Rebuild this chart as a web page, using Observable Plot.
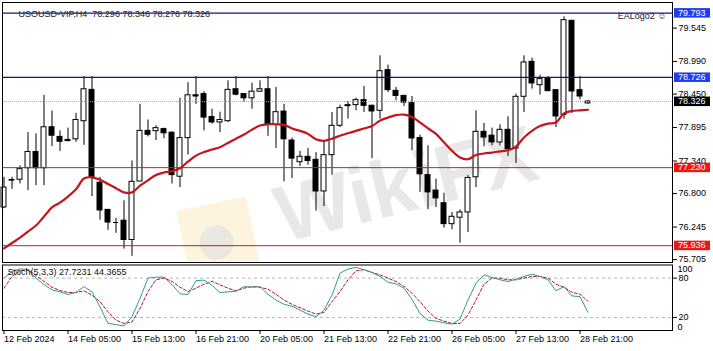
<!DOCTYPE html>
<html>
<head>
<meta charset="utf-8">
<script src="https://cdn.jsdelivr.net/npm/d3@7"></script>
<script src="https://cdn.jsdelivr.net/npm/@observablehq/plot@0.6"></script>
<style>
html, body { margin: 0; padding: 0; background: #fff; }
#chart { position: relative; width: 713px; height: 351px; overflow: hidden; background: #fff; }
#chart svg { position: absolute; left: 0; }
</style>
</head>
<body>
<div id="chart"></div>
<script>
// ---- data ----
const opens  = [76.57,77.02,77.03,77.22,77.49,77.22,77.90,77.74,77.69,77.70,78.00,78.52,76.98,76.53,76.32,76.35,76.03,77.00,77.84,77.835,77.869,77.81,77.08,77.72,78.43,78.45,78.07,77.98,78.00,78.53,78.45,78.38,78.49,78.53,77.94,78.16,77.68,77.32,77.41,77.36,76.835,77.437,77.924,78.25,78.267,78.35,78.256,78.173,78.847,78.504,78.42,78.30,77.72,77.106,76.85,76.64,76.293,76.40,76.487,77.07,77.824,77.76,77.648,77.857,77.548,78.405,78.985,78.598,78.71,78.515,78.106,79.665,78.515,78.296];
const highs  = [77.07,77.07,77.26,77.81,77.79,78.43,78.17,77.84,77.885,78.13,78.74,78.74,77.07,76.53,76.39,76.68,77.34,78.28,78.02,77.925,77.885,77.82,78.38,78.64,78.74,78.49,78.20,78.15,78.67,78.74,78.45,78.63,78.67,78.74,78.56,78.28,77.72,77.50,77.55,77.48,77.675,78.145,78.267,78.327,78.383,78.576,78.267,79.085,78.93,78.56,78.43,78.41,77.77,77.592,77.04,76.807,76.487,76.53,77.10,78.173,77.963,77.885,77.94,78.073,78.449,79.085,79.046,78.764,78.742,78.515,79.731,79.676,78.742,78.346];
const lows   = [76.55,76.87,76.96,76.85,76.93,76.93,77.58,77.50,77.66,77.65,77.60,76.75,76.36,76.19,76.14,75.88,75.76,77.00,77.74,77.68,77.71,76.96,76.90,77.44,78.28,77.84,77.95,77.81,77.98,78.42,78.32,78.20,78.48,77.75,77.55,76.995,77.05,77.25,77.27,76.51,76.586,77.106,77.896,78.035,78.173,78.145,77.38,78.035,78.477,78.34,78.245,77.51,76.82,76.531,76.57,76.227,76.20,75.978,76.155,76.90,77.576,77.592,77.592,77.415,77.30,78.145,78.532,78.433,78.488,77.896,78.035,78.128,78.355,78.276];
const closes = [76.90,77.025,77.205,77.49,77.22,77.90,77.76,77.66,77.67,78.02,78.53,77.07,76.52,76.32,76.32,76.03,76.995,77.84,77.775,77.885,77.80,77.106,77.72,78.43,78.41,78.06,77.98,78.02,78.52,78.44,78.38,78.49,78.53,77.94,78.15,77.70,77.38,77.41,77.34,76.835,77.437,77.924,78.217,78.267,78.35,78.256,78.162,78.83,78.515,78.42,78.31,77.714,77.12,76.82,76.72,76.293,76.415,76.487,77.06,77.824,77.73,77.648,77.857,77.537,78.405,78.974,78.626,78.698,78.499,78.079,79.676,78.493,78.41,78.326];
const maValues = [75.89,75.98,76.07,76.17,76.27,76.42,76.57,76.65,76.75,76.87,77.05,77.07,77.03,76.96,76.89,76.82,76.82,76.93,77.02,77.11,77.15,77.17,77.22,77.33,77.43,77.49,77.53,77.57,77.64,77.71,77.78,77.86,77.93,77.95,77.95,77.94,77.88,77.84,77.79,77.70,77.675,77.71,77.76,77.80,77.84,77.88,77.92,78.01,78.06,78.10,78.11,78.07,77.98,77.88,77.79,77.65,77.51,77.40,77.37,77.44,77.465,77.48,77.50,77.52,77.58,77.73,77.84,77.92,77.96,77.98,78.13,78.17,78.18,78.19];
const stochK = [80,90,94,93,80,70,62,59,55,58,67,59,36,11,9,7,21,49,80,81.5,81.5,70,56,55,76,77,69,58,59,60,67,66,67,55,46.5,40,37,31,25,21,31,54,87.6,93.8,96.3,92.8,88.6,82.5,73.8,71.2,64.6,47.6,26,15.8,14.3,11.7,9.7,17.4,46.5,72.3,85,81,77.4,74.8,78.4,82.5,86,82.5,77.4,60.5,67.2,52.8,51.7,27.7231];
const stochD = [64.6,82.5,91,93,84,75,66,61,58,58,60.5,54,44,28.5,15.8,10.8,13,33.7,59.4,77.4,80,75,66,59.4,64.6,70.7,75,69.7,64.6,60.5,64.6,67.2,66,63,55.3,46.5,39.9,34.7,29.6,25,27.5,44,59.4,77.4,91,92.8,88.6,85,80,74.8,67.2,56.9,44,29.6,18.5,14.3,10.8,10.8,23.6,46.5,70.7,80,80,77.4,77.4,80,82.5,82.5,80,70.7,66,58.4,55.3,44.3655];

const dateTicks  = [0, 8, 16, 24, 32, 40, 48, 56, 64, 72];
const dateLabels = ["12 Feb 2024","14 Feb 05:00","15 Feb 13:00","16 Feb 21:00","20 Feb 05:00","21 Feb 13:00","22 Feb 21:00","26 Feb 05:00","27 Feb 13:00","28 Feb 21:00"];
const priceTicks = [79.545, 78.990, 78.450, 77.895, 77.340, 76.800, 76.245, 75.705];
const blueLevels = [79.793, 78.726];
const redLevels  = [77.230, 75.936];
const bidLevel   = [78.326];
const stochLevels = [80, 20];
const titleText = "USOUSD-VIP,H4\u00a0\u00a078.296 78.346 78.276 78.326";
const eaText = "EALogo2 \u263A";
const stochText = "Stoch(5,3,3) 27.7231 44.3655";
const watermark = "WikiFX";

// ---- tables built from the arrays ----
const bars = opens.map((o, i) => ({i, open: o, high: highs[i], low: lows[i], close: closes[i], ma: maValues[i]}));
const stoch = stochK.map((k, i) => ({i, k, d: stochD[i]}));
const boxes = [
  ...blueLevels.map(v => ({v, color: "#1f3cf0"})),
  ...bidLevel.map(v => ({v, color: "#000000"})),
  ...redLevels.map(v => ({v, color: "#ee1515"}))
];

const xDomain = [-0.1875, 83.5625];
const font = '"Liberation Sans", Arial, sans-serif';
const baseStyle = {fontFamily: font, fontSize: "9px", background: "transparent", color: "#000"};

function priceBoxes(list) {
  return (index, scales, values, dimensions) => {
    const g = d3.create("svg:g");
    const x0 = dimensions.width - dimensions.marginRight;
    for (const b of list) {
      const y = scales.y(b.v);
      g.append("rect").attr("x", x0 + 2).attr("y", y - 4.5).attr("width", 36).attr("height", 9.5).attr("fill", b.color);
      g.append("text").attr("x", x0 + 6).attr("y", y).attr("dy", "0.34em")
        .attr("text-anchor", "start")
        .attr("fill", "#fff").attr("font-size", 9).attr("font-family", font).text(b.v.toFixed(3));
    }
    return g.node();
  };
}

const main = Plot.plot({
  width: 713, height: 263,
  marginLeft: 2, marginRight: 41, marginTop: 2, marginBottom: 1,
  x: {domain: xDomain, axis: null},
  y: {domain: [75.657, 79.969], axis: null},
  style: baseStyle,
  marks: [
    Plot.dot([watermark], {frameAnchor: "bottom-left", dx: 216, dy: -24, r: 40, symbol: "square", rotate: -12, fill: "#fcf4dc"}),
    Plot.dot([watermark], {frameAnchor: "bottom-left", dx: 214, dy: -20, r: 17, fill: "#ebe7e0"}),
    Plot.text([watermark], {frameAnchor: "bottom", dx: 75, dy: -52, text: d => d, fontSize: 80, fontWeight: "bold", rotate: -14, fill: "#e8e8e8", fontFamily: font}),
    Plot.ruleX(bars, {x: "i", y1: "low", y2: "high", stroke: "#000", strokeWidth: 1}),
    Plot.rect(bars, {x1: d => d.i - 0.31, x2: d => d.i + 0.31, y1: "open", y2: "close",
      fill: d => d.close >= d.open ? "#fff" : "#000", stroke: "#000", strokeWidth: 1}),
    Plot.ruleY(bars.filter(d => Math.abs(d.close - d.open) < 0.012), {x1: d => d.i - 0.31, x2: d => d.i + 0.31, y: "close", stroke: "#000"}),
    Plot.ruleY(bidLevel, {stroke: "#a0a0a0", strokeDasharray: "1,1"}),
    Plot.ruleY(blueLevels, {stroke: "#14147a", strokeWidth: 1.2}),
    Plot.ruleY(redLevels, {stroke: "#c0222a", strokeWidth: 1}),
    Plot.line(bars, {x: "i", y: "ma", stroke: "#c4141e", strokeWidth: 2.2, curve: "catmull-rom"}),
    Plot.frame({stroke: "#000"}),
    Plot.axisY({anchor: "right", ticks: priceTicks, tickFormat: d => d.toFixed(3), tickSize: 4, tickPadding: 2, fontSize: 9, label: null}),
    priceBoxes(boxes),
    Plot.text([titleText], {frameAnchor: "top-left", dx: 16, dy: 8.5, text: d => d, textAnchor: "start", fill: "#222", fontSize: 9}),
    Plot.text([eaText], {frameAnchor: "top-right", dx: -6, dy: 10.5, text: d => d, textAnchor: "end", fill: "#1a1a3a", fontSize: 9})
  ]
});
main.style.top = "0px";

const sto = Plot.plot({
  width: 713, height: 88,
  marginLeft: 2, marginRight: 41, marginTop: 1.5, marginBottom: 21,
  x: {domain: xDomain, axis: null},
  y: {domain: [0, 100], axis: null},
  style: baseStyle,
  marks: [
    Plot.ruleY(stochLevels, {stroke: "#b4b4b4", strokeDasharray: "3,3"}),
    Plot.line(stoch, {x: "i", y: "d", stroke: "#b3163c", strokeDasharray: "3,2", strokeWidth: 1}),
    Plot.line(stoch, {x: "i", y: "k", stroke: "#2f9d8e", strokeWidth: 1}),
    Plot.frame({stroke: "#000"}),
    Plot.axisX({anchor: "bottom", ticks: dateTicks, tickFormat: d => dateLabels[dateTicks.indexOf(d)],
      tickSize: 4, tickPadding: 1, textAnchor: "start", fontSize: 9, label: null}),
    Plot.axisY({anchor: "right", ticks: stochLevels, tickSize: 4, tickPadding: 2, fontSize: 9, label: null}),
    Plot.axisY({anchor: "right", ticks: [100], tickSize: 0, tickPadding: 5, lineAnchor: "top", dy: 1, fontSize: 9, label: null}),
    Plot.axisY({anchor: "right", ticks: [0], tickSize: 0, tickPadding: 5, lineAnchor: "bottom", dy: -0.5, fontSize: 9, label: null}),
    Plot.text([stochText], {frameAnchor: "top-left", dx: 5, dy: 4, text: d => d, textAnchor: "start", lineAnchor: "top", fill: "#111", fontSize: 9})
  ]
});
sto.style.top = "263px";

const chart = document.getElementById("chart");
chart.appendChild(main);
chart.appendChild(sto);
</script>
</body>
</html>
